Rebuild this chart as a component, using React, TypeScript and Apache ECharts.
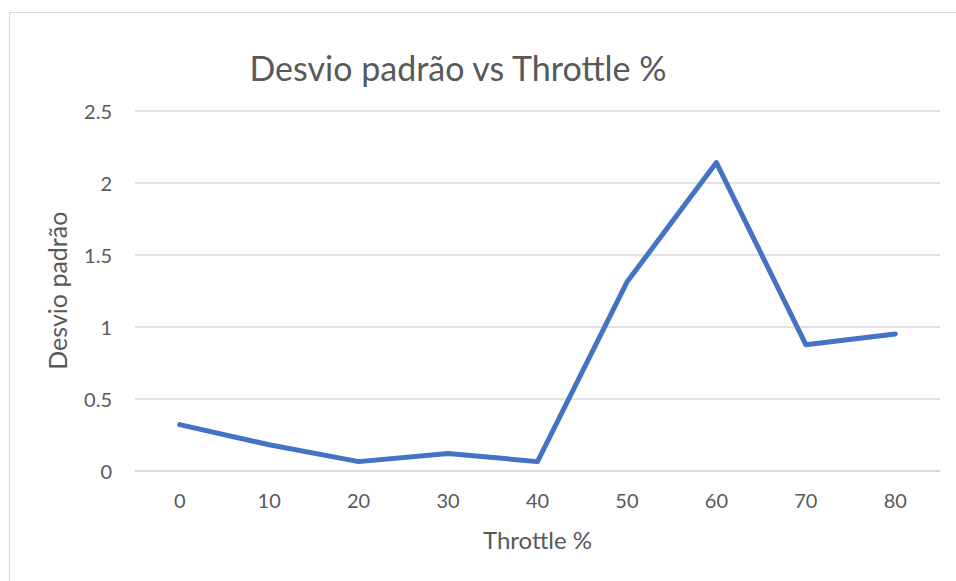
import React, { useEffect, useRef } from "react";
import * as echarts from "echarts";

const categories = ["0", "10", "20", "30", "40", "50", "60", "70", "80"];
const stdDev = [0.32, 0.18, 0.063, 0.12, 0.063, 1.31, 2.14, 0.875, 0.95];
const titleText = "Desvio padrão vs Throttle %";
const yName = "Desvio padrão";
const xName = "Throttle %";

export default function App() {
  const ref = useRef<HTMLDivElement>(null);
  useEffect(() => {
    if (!ref.current) return;
    const chart = echarts.init(ref.current, undefined, { renderer: "svg" });
    const font = "Lato, 'Open Sans', sans-serif";
    chart.setOption({
      animation: false,
      backgroundColor: "#ffffff",
      textStyle: { fontFamily: font },
      title: {
        text: titleText,
        left: 453,
        top: 45,
        textAlign: "center",
        textStyle: { fontFamily: font, fontSize: 34, fontWeight: "normal", color: "#595959" },
      },
      graphic: [
        {
          type: "rect",
          shape: { x: 9.5, y: 12.5, width: 980, height: 600 },
          style: { fill: "none", stroke: "#d9d9d9", lineWidth: 1 },
          silent: true,
        },
      ],
      grid: { left: 135, right: 16, top: 110.7, bottom: 110.3, containLabel: false },
      xAxis: {
        type: "category",
        data: categories,
        boundaryGap: true,
        name: xName,
        nameLocation: "middle",
        nameGap: 57,
        nameTextStyle: { fontFamily: font, fontSize: 24, color: "#595959" },
        axisLine: { show: true, lineStyle: { color: "#d9d9d9", width: 1.5 } },
        axisTick: { show: false },
        axisLabel: { margin: 19, fontFamily: font, fontSize: 20, color: "#595959" },
        splitLine: { show: false },
      },
      yAxis: {
        type: "value",
        min: 0,
        max: 2.5,
        interval: 0.5,
        name: yName,
        nameLocation: "middle",
        nameGap: 66,
        nameTextStyle: { fontFamily: font, fontSize: 25, color: "#595959" },
        axisLine: { show: false },
        axisTick: { show: false },
        axisLabel: { margin: 23, fontFamily: font, fontSize: 20, color: "#595959" },
        splitLine: { show: true, lineStyle: { color: "#d9d9d9", width: 1.5 } },
      },
      series: [
        {
          type: "line",
          data: stdDev,
          symbol: "none",
          lineStyle: { color: "#4472C4", width: 5, cap: "round", join: "round" },
          itemStyle: { color: "#4472C4" },
        },
      ],
    });
    return () => chart.dispose();
  }, []);
  return (
    <div
      ref={ref}
      style={{ position: "fixed", left: 0, top: 0, width: 956, height: 581, background: "#fff" }}
    />
  );
}
